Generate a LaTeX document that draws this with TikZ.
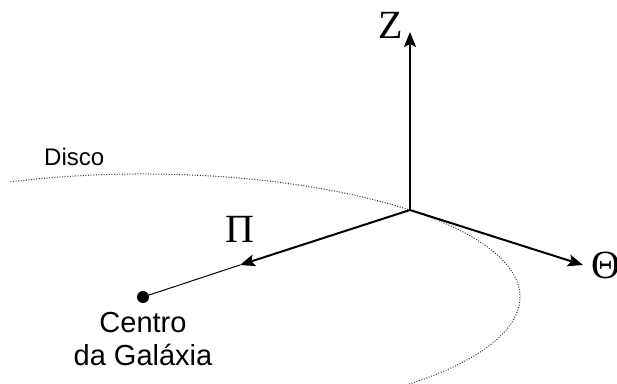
\documentclass[tikz,border=0pt]{standalone}
\usepackage{fontspec}
\setmainfont{Liberation Sans}
\newfontfamily\greekfont{Liberation Serif}
\usetikzlibrary{arrows.meta, positioning}

\begin{document}
\begin{tikzpicture}[
  x=1pt, y=1pt,
  axis/.style   = {-{Stealth[length=15pt, width=12pt, inset=3pt]}, line width=2pt},
  axlbl/.style  = {font=\fontsize{40}{40}\selectfont\greekfont, inner sep=0pt},
  orbit/.style  = {line width=1pt, dash pattern=on 1pt off 1.6pt, black!80},
  lbl/.style    = {inner sep=0pt, align=center},
]
\useasboundingbox (0,0) rectangle (617,383);
\clip (0,0) rectangle (617,383);

% ── Galactic centre and disc ──────────────────────────────────────────────────
\node[circle, fill=black, minimum size=12pt, inner sep=0pt] (centre) at (143,86) {};

\draw[orbit] (centre.center) ++(110.6:377 and 123)
  arc[start angle=110.6, end angle=-46, x radius=377, y radius=123];

% ── Axes ──────────────────────────────────────────────────────────────────────
\coordinate (o)        at (410,173);
\coordinate (zend)     at (410,351);
\coordinate (piend)    at (240,118);
\coordinate (thetaend) at (583,118);

\draw[line width=1pt] (centre) -- (piend);
\draw[axis] (o) -- (zend);
\draw[axis] (o) -- (piend);
\draw[axis] (o) -- (thetaend);

% ── Labels ────────────────────────────────────────────────────────────────────
\node[axlbl] (zlbl) at (391,358) {Z};
\node[axlbl] (pilbl) at (240,154) {Π};
\node[axlbl, anchor=west] (thetalbl) at (591,118) {Θ};

\node[lbl, font=\fontsize{24}{29}\selectfont, anchor=base west] (disco) at (44,217) {Disco};
\node[lbl, font=\fontsize{29}{33}\selectfont, below=9pt of centre] (centrolbl) {Centro\\da Galáxia};

\end{tikzpicture}
\end{document}
